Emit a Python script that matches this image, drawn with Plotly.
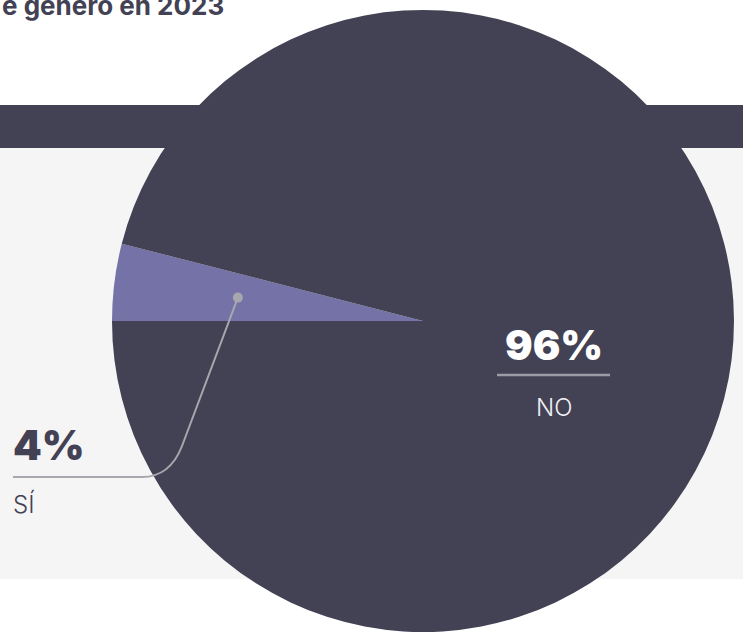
import math
import plotly.graph_objects as go

W, H = 743, 632

labels = ["SÍ", "NO"]
values = [4, 96]
pct_labels = ["4%", "96%"]
colors = ["#7472a6", "#434154"]
title_text = "e género en 2023"

DARK = "#434154"
GRAY_BG = "#f5f5f5"
LINE = "#a8a7ae"

# pie geometry in pixels
cx, cy, r = 423, 321, 311

def px(x):
    return x / W

def py(y):
    return 1 - y / H

fig = go.Figure()
fig.add_trace(go.Pie(
    labels=labels, values=values, sort=False, direction="clockwise",
    rotation=-90, marker=dict(colors=colors, line=dict(width=0)),
    textinfo="none", hoverinfo="skip", showlegend=False,
    domain=dict(x=[px(cx - r), px(cx + r)], y=[py(cy + r), py(cy - r)]),
))

shapes = [
    dict(type="rect", xref="paper", yref="paper", x0=0, x1=1, y0=py(148), y1=py(105),
         fillcolor=DARK, line=dict(width=0), layer="below"),
    dict(type="rect", xref="paper", yref="paper", x0=0, x1=1, y0=py(579), y1=py(148),
         fillcolor=GRAY_BG, line=dict(width=0), layer="below"),
]

# leader for the small slice, from its mid angle
mid = values[0] / sum(values) * 360 / 2
ang = math.radians(180 - mid)
dx, dy = cx + 0.6 * r * math.cos(ang), cy - 0.6 * r * math.sin(ang)
corner_y = 477
bx, by = 182, 446
path = (f"M {px(dx)},{py(dy)} L {px(bx)},{py(by)} "
        f"Q {px(bx - 12)},{py(corner_y)} {px(bx - 40)},{py(corner_y)} L {px(13)},{py(corner_y)}")
shapes.append(dict(type="path", xref="paper", yref="paper", path=path,
                   line=dict(color=LINE, width=2)))
shapes.append(dict(type="circle", xref="paper", yref="paper",
                   x0=px(dx - 5), x1=px(dx + 5), y0=py(dy + 5), y1=py(dy - 5),
                   fillcolor=LINE, line=dict(width=0)))
# underline for big slice label
shapes.append(dict(type="line", xref="paper", yref="paper", x0=px(497), x1=px(610),
                   y0=py(375), y1=py(375), line=dict(color="#9c9ba6", width=2.5)))

annotations = [
    dict(text=title_text, x=0, y=py(5), xref="paper", yref="paper", xanchor="left",
         yanchor="middle", showarrow=False,
         font=dict(family="Inter", size=26, weight=700, color=DARK)),
    dict(text=pct_labels[1], x=px(554), y=py(345), xref="paper", yref="paper",
         showarrow=False, xanchor="center", yanchor="middle",
         font=dict(family="Inter", size=41, weight=900, color="#ffffff")),
    dict(text=labels[1], x=px(554), y=py(407), xref="paper", yref="paper",
         showarrow=False, xanchor="center", yanchor="middle",
         font=dict(family="Inter", size=24, weight=300, color="#f0f0f4")),
    dict(text=pct_labels[0], x=px(11), y=py(445), xref="paper", yref="paper",
         showarrow=False, xanchor="left", yanchor="middle",
         font=dict(family="Inter", size=41, weight=900, color=DARK)),
    dict(text=labels[0], x=px(11), y=py(504), xref="paper", yref="paper",
         showarrow=False, xanchor="left", yanchor="middle",
         font=dict(family="Inter", size=24, weight=300, color=DARK)),
]

fig.update_layout(
    width=W, height=H, margin=dict(l=0, r=0, t=0, b=0),
    paper_bgcolor="#ffffff", plot_bgcolor="#ffffff",
    shapes=shapes, annotations=annotations,
)

fig.write_html("out.html", config={"displayModeBar": False},
               post_script="document.body.style.margin='0';")
